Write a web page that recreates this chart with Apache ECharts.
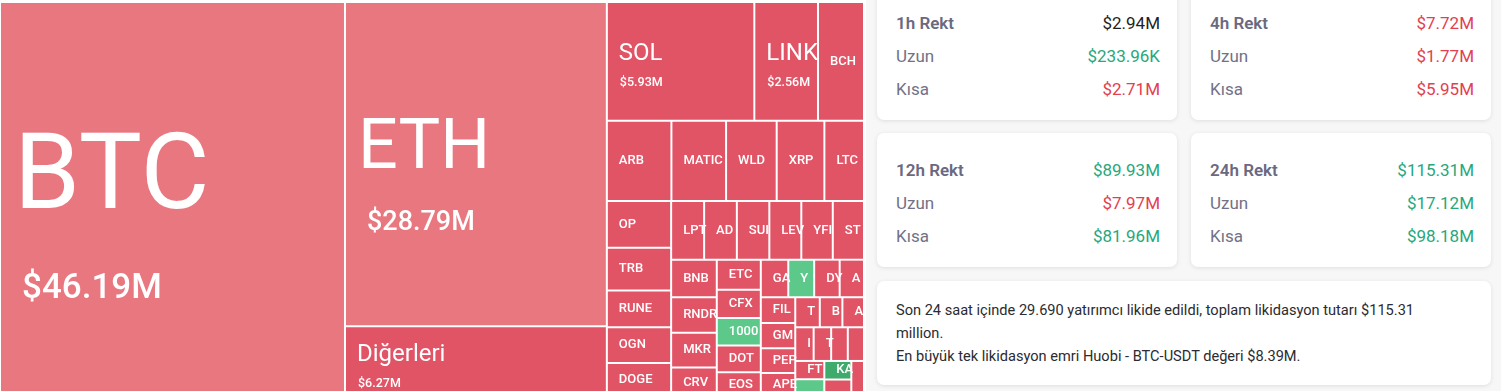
<!DOCTYPE html>
<html>
<head>
<meta charset="utf-8">
<script src="https://cdn.jsdelivr.net/npm/echarts/dist/echarts.min.js"></script>
<style>
  html, body { margin: 0; padding: 0; }
  body { width: 1501px; height: 391px; overflow: hidden; background: #f7f7f8; position: relative; font-family: Roboto, "Noto Sans", sans-serif; }
  #chart { position: absolute; left: 0; top: 0; width: 866px; height: 400px; background: #fff; }
  .card { position: absolute; width: 300px; height: 134px; background: #fff; border-radius: 7px;
          box-shadow: 0 1px 4px rgba(0,0,0,0.10); box-sizing: border-box; padding: 21px 17px 0 19px; }
  .row { display: flex; justify-content: space-between; height: 33px; line-height: 33px; font-size: 17px; color: #727186; }
  .row.head span:first-child { font-weight: 600; color: #6a6980; }
  .dark { color: #1f1f24; } .green { color: #28a77c; } .red { color: #e2404f; }
  .summary { position: absolute; left: 877px; top: 281px; width: 614px; height: 104px; background: #fff; border-radius: 7px;
             box-shadow: 0 1px 4px rgba(0,0,0,0.10); box-sizing: border-box; padding: 18px 19px 0 19px; font-size: 14.6px; line-height: 23px; color: #2b2b30; }
  .summary div { white-space: nowrap; }
</style>
</head>
<body>
<div id="chart"></div>
<div id="cards"></div>
<script>
// ---- treemap data (values in $M) ----
const coins = ['BTC','ETH','Diğerleri','SOL','LINK','BCH','ARB','MATIC','WLD','XRP','LTC',
  'OP','TRB','RUNE','OGN','DOGE','LPT','ADA','SUI','LEVER','YFI','STORJ',
  'BNB','RNDR','MKR','CRV','ETC','CFX','1000SATS','DOT','EOS',
  'GALA','YGG','DYDX','ARPA','FIL','GMT','PEPE','APE','TRX','BTS','ATOM',
  'ICP','T','AVAX','APT','FTM','FITFI','KAVA','BSV','MASK'];
const liqM = [46.19,28.79,6.27,5.93,2.56,1.85,1.76,1.49,1.38,1.30,1.08,
  1.02,0.93,0.80,0.78,0.74,0.655,0.65,0.645,0.635,0.625,0.62,
  0.58,0.55,0.54,0.455,0.45,0.42,0.41,0.40,0.37,
  0.35,0.33,0.325,0.31,0.30,0.295,0.29,0.28,0.25,0.23,0.22,
  0.21,0.20,0.19,0.185,0.18,0.175,0.17,0.16,0.155];
// dominant side of each coin's liquidations
const side = ['soft','soft','short','short','short','short','short','short','short','short','short',
  'short','short','short','short','short','short','short','short','short','short','short',
  'short','short','short','short','short','short','long','short','short',
  'short','long','short','short','short','short','short','short','short','short','short',
  'short','short','short','short','short','long','deep','short','short'];

// ---- stat cards ----
const periods = ['1h Rekt','4h Rekt','12h Rekt','24h Rekt'];
const totals  = ['$2.94M','$7.72M','$89.93M','$115.31M'];
const totalTone = ['dark','red','green','green'];
const longs   = ['$233.96K','$1.77M','$7.97M','$17.12M'];
const longTone = ['green','red','red','green'];
const shorts  = ['$2.71M','$5.95M','$81.96M','$98.18M'];
const shortTone = ['red','red','green','green'];
const rowLabels = ['Uzun','Kısa'];
const summaryLines = [
  'Son 24 saat içinde 29.690 yatırımcı likide edildi, toplam likidasyon tutarı $115.31',
  'million.',
  'En büyük tek likidasyon emri Huobi - BTC-USDT değeri $8.39M.'
];

const colorOf = { soft: '#e9777f', short: '#e15466', long: '#5cc98b', deep: '#3eab6d' };
const FONT = 'Roboto';

function tier(v) {
  if (v >= 40) return { n: 106, v: 35, nl: 180, vl: 36, w: 400, pl: 13, vp: 8 };
  if (v >= 20) return { n: 70, v: 27, nl: 119, vl: 27, w: 400, pl: 12, vp: 9 };
  if (v >= 2) return { n: 24, v: 12.5, nl: 44, vl: 14, w: 400, pl: 11, vp: 1 };
  return { n: 13, nl: 16, w: 500, pl: 11 };
}

function buildData(padTop) {
  return coins.map((c, i) => {
    const v = liqM[i];
    const t = tier(v);
    const rich = { n: { fontSize: t.n, lineHeight: t.nl, color: '#fff', fontFamily: FONT, fontWeight: t.w } };
    let fmt = '{n|' + c + '}';
    if (t.v) {
      rich.v = { fontSize: t.v, lineHeight: t.vl, color: '#fff', fontFamily: FONT, fontWeight: 500, padding: [0, 0, 0, t.vp] };
      fmt += '\n{v|$' + v.toFixed(2) + 'M}';
    }
    return {
      name: c, value: v,
      itemStyle: { color: colorOf[side[i]] },
      label: { formatter: fmt, rich: rich, padding: [padTop ? (padTop[c] || 0) : 0, -5, 0, t.pl] }
    };
  });
}

function seriesOpt(data) {
  return {
    type: 'treemap',
    left: -1, top: 1, width: 866, height: 397,
    roam: false, nodeClick: false, silent: true,
    breadcrumb: { show: false },
    visibleMin: 0,
    sort: 'desc',
    itemStyle: { borderColor: '#fff', borderWidth: 1, gapWidth: 0 },
    label: { show: true, position: 'insideTopLeft', distance: 0, color: '#fff', fontFamily: FONT, overflow: 'truncate', ellipsis: '' },
    emphasis: { disabled: true },
    data: data
  };
}

const chart = echarts.init(document.getElementById('chart'), null, { renderer: 'canvas' });
chart.setOption({ animation: false, series: [seriesOpt(buildData(null))] });

// second pass: vertically centre each label block using the library's own node layout
try {
  const sm = chart.getModel().getSeriesByIndex(0);
  const root = sm.getData().tree.root;
  const padTop = {};
  const walk = (node) => {
    (node.children || []).forEach(ch => {
      const l = ch.getLayout();
      if (l) {
        const i = coins.indexOf(ch.name);
        if (i >= 0) {
          const t = tier(liqM[i]);
          const block = t.nl + (t.vl || 0);
          const ch_h = l.height - 2 * (l.borderWidth || 0);
          padTop[ch.name] = Math.max(0, (ch_h - block) / 2);
        }
      }
      walk(ch);
    });
  };
  walk(root);
  chart.setOption({ series: [seriesOpt(buildData(padTop))] });
} catch (e) { console.log(e); }

// build cards
const cardPos = [[877, -14], [1191, -14], [877, 133], [1191, 133]];
const cards = document.getElementById('cards');
periods.forEach((p, i) => {
  const d = document.createElement('div');
  d.className = 'card';
  d.style.left = cardPos[i][0] + 'px';
  d.style.top = cardPos[i][1] + 'px';
  d.innerHTML =
    '<div class="row head"><span>' + p + '</span><span class="' + totalTone[i] + '">' + totals[i] + '</span></div>' +
    '<div class="row"><span>' + rowLabels[0] + '</span><span class="' + longTone[i] + '">' + longs[i] + '</span></div>' +
    '<div class="row"><span>' + rowLabels[1] + '</span><span class="' + shortTone[i] + '">' + shorts[i] + '</span></div>';
  cards.appendChild(d);
});
const s = document.createElement('div');
s.className = 'summary';
s.innerHTML = summaryLines.map(l => '<div>' + l + '</div>').join('');
cards.appendChild(s);
</script>
</body>
</html>
